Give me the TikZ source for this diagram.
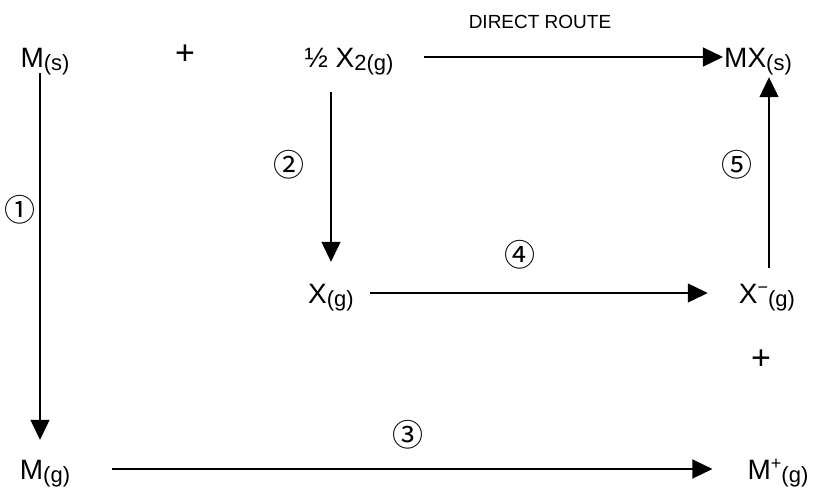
\documentclass[tikz,border=0pt]{standalone}
\usepackage{fontspec}
\setmainfont{Liberation Sans}
\newfontfamily\cjk{Noto Sans CJK JP}
\usetikzlibrary{arrows.meta}

% small lowered state symbol, raised charge
\newcommand{\st}[1]{\raisebox{-3pt}{\fontsize{22}{23}\selectfont #1}}
\newcommand{\chg}[1]{\raisebox{10pt}{\fontsize{18}{19}\selectfont #1}}

\tikzset{
  species/.style={inner sep=0pt, text height=20pt, text depth=0pt, font=\fontsize{28}{32}\selectfont},
  plussign/.style={inner sep=0pt, font=\fontsize{34}{36}\selectfont},
  stepno/.style={inner sep=0pt, font=\cjk\fontsize{31}{33}\selectfont},
  arr/.style={-{Triangle[length=20pt,width=19pt]}, line width=1.3pt}
}

\begin{document}
\begin{tikzpicture}[x=1pt, y=-1pt]
    \useasboundingbox (0,0) rectangle (815,491);

    % Specie
    \node[species] (ms) at (45, 57) {M\st{(s)}};
    \node[plussign] (plusa) at (185, 55) {+};
    \node[species] (hx) at (349, 57) {½ X\st{2(g)}};
    \node[species] (mx) at (758, 57) {MX\st{(s)}};
    \node[species] (xg) at (331, 293) {X\st{(g)}};
    \node[species] (xm) at (767, 293) {X\chg{−}\st{(g)}};
    \node[plussign] (plusb) at (761, 360) {+};
    \node[species] (mg) at (45, 469) {M\st{(g)}};
    \node[species] (mp) at (778, 469) {M\chg{+}\st{(g)}};

    % Etichetta via diretta
    \node[font=\fontsize{19}{21}\selectfont] (dr) at (540, 22) {DIRECT ROUTE};

    % Passaggi numerati
    \node[stepno] (s1) at (20, 210) {①};
    \node[stepno] (s2) at (289, 165) {②};
    \node[stepno] (s3) at (408, 435) {③};
    \node[stepno] (s4) at (520, 255) {④};
    \node[stepno] (s5) at (737, 165) {⑤};

    % Frecce
    \draw[arr] ([xshift=-5pt, yshift=-6pt]ms.south) -- ([xshift=-5pt, yshift=19pt]mg.north);
    \draw[arr] ([xshift=30pt]hx.east) -- ([xshift=-1pt]mx.west);
    \draw[arr] ([yshift=-25pt]hx.south -| xg) -- ([yshift=21pt]xg.north -| xg);
    \draw[arr] ([xshift=16pt]xg.east) -- ([xshift=-31pt]xm.west);
    \draw[arr] ([xshift=2pt, yshift=15pt]xm.north) -- ([xshift=2pt, yshift=-10pt]xm.north |- mx.south);
    \draw[arr] ([xshift=42pt]mg.east) -- ([xshift=-35pt]mp.west);
\end{tikzpicture}
\end{document}
